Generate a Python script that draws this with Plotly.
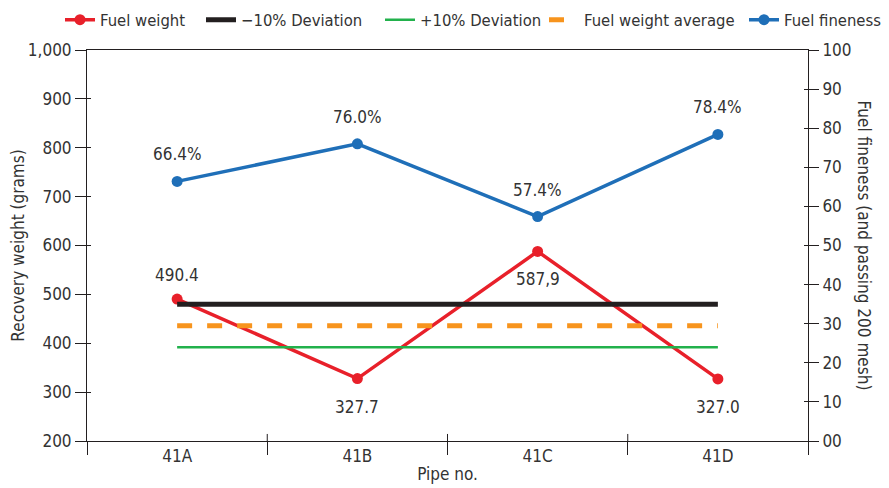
import plotly.graph_objects as go

pipes = ["41A", "41B", "41C", "41D"]
fuel_weight = [490.4, 327.7, 587.9, 327.0]
fuel_weight_labels = ["490.4", "327.7", "587,9", "327.0"]
fuel_weight_label_shift = [24, -28, -28, -28]
fuel_fineness = [66.4, 76.0, 57.4, 78.4]
fineness_labels = ["66.4%", "76.0%", "57.4%", "78.4%"]
minus10 = [480, 480, 480, 480]
plus10 = [392, 392, 392, 392]
average = [436, 436, 436, 436]
left_ticks = [200, 300, 400, 500, 600, 700, 800, 900, 1000]
left_ticktext = ["200", "300", "400", "500", "600", "700", "800", "900", "1,000"]
right_ticks = [0, 10, 20, 30, 40, 50, 60, 70, 80, 90, 100]
right_ticktext = ["00", "10", "20", "30", "40", "50", "60", "70", "80", "90", "100"]

FONT = "DejaVu Sans Condensed, Liberation Sans Narrow, Roboto, Arial"
TXT = "#333333"
AX = "#231F20"
FS = 17
W = 881
H = 480

fig = go.Figure()
fig.add_trace(go.Scatter(x=pipes, y=fuel_weight, name="Fuel weight", mode="lines+markers",
                         legend="legend",
                         line=dict(color="#E8202A", width=3.5), marker=dict(size=11, color="#E8202A")))
fig.add_trace(go.Scatter(x=pipes, y=minus10, name="\u221210% Deviation", mode="lines",
                         legend="legend2",
                         line=dict(color="#231F20", width=5)))
fig.add_trace(go.Scatter(x=pipes, y=plus10, name="+10% Deviation", mode="lines",
                         legend="legend3",
                         line=dict(color="#22B14C", width=2.5)))
fig.add_trace(go.Scatter(x=pipes, y=average, name="Fuel weight average", mode="lines",
                         legend="legend4",
                         line=dict(color="#F7941D", width=5, dash="dash")))
fig.add_trace(go.Scatter(x=pipes, y=fuel_fineness, name="Fuel fineness", mode="lines+markers",
                         yaxis="y2", legend="legend5",
                         line=dict(color="#1F6FB8", width=3.5), marker=dict(size=11, color="#1F6FB8")))

for p, v, t, s in zip(pipes, fuel_weight, fuel_weight_labels, fuel_weight_label_shift):
    fig.add_annotation(x=p, y=v, xref="x", yref="y", text=t, showarrow=False, yshift=s,
                       font=dict(size=FS, color=TXT))
for p, v, t in zip(pipes, fuel_fineness, fineness_labels):
    fig.add_annotation(x=p, y=v, xref="x", yref="y2", text=t, showarrow=False, yshift=27,
                       font=dict(size=FS, color=TXT))


def leg(px):
    return dict(orientation="h", xref="container", yref="container", x=px / W, xanchor="left",
                y=1 - 12 / H, yanchor="middle", font=dict(size=16.5, color=TXT), itemwidth=30,
                bgcolor="rgba(0,0,0,0)")


fig.update_layout(
    width=W, height=H,
    margin=dict(l=79, r=81, t=42, b=47, autoexpand=False),
    paper_bgcolor="white", plot_bgcolor="white",
    font=dict(family=FONT, size=FS, color=TXT),
    showlegend=True,
    legend=leg(52), legend2=leg(193), legend3=leg(372), legend4=leg(536), legend5=leg(736),
    xaxis=dict(type="category", range=[-0.5, 3.5], showline=True, linecolor=AX, linewidth=1,
               mirror=True, ticks="outside", tickson="boundaries", ticklen=13, tickcolor=AX,
               showgrid=False, zeroline=False,
               title=dict(text="Pipe no.", standoff=2, font=dict(size=FS, color=TXT)),
               tickfont=dict(size=FS, color=TXT)),
    yaxis=dict(range=[200, 1000], tickvals=left_ticks, ticktext=left_ticktext,
               showline=True, linecolor=AX, linewidth=1, ticks="outside", ticklen=11,
               tickcolor=AX, showgrid=False, zeroline=False,
               title=dict(text="Recovery weight (grams)", font=dict(size=FS, color=TXT), standoff=6),
               tickfont=dict(size=FS, color=TXT)),
    yaxis2=dict(range=[0, 100], tickvals=right_ticks, ticktext=right_ticktext, overlaying="y",
                side="right", showline=True, linecolor=AX, linewidth=1, ticks="outside",
                ticklen=10, tickcolor=AX, showgrid=False, zeroline=False,
                tickfont=dict(size=FS, color=TXT)),
    yaxis3=dict(range=[200, 1000], tickvals=left_ticks[1:-1], overlaying="y", side="left",
                anchor="x", ticks="inside", ticklen=4, tickcolor=AX, showticklabels=False,
                showgrid=False, zeroline=False, showline=False),
    yaxis4=dict(range=[0, 100], tickvals=right_ticks[1:-1], overlaying="y", side="right",
                anchor="x", ticks="inside", ticklen=4, tickcolor=AX, showticklabels=False,
                showgrid=False, zeroline=False, showline=False),
)
# invisible traces to activate the overlay tick axes
fig.add_trace(go.Scatter(x=[pipes[0]], y=[left_ticks[0]], yaxis="y3", mode="none",
                         showlegend=False, hoverinfo="skip"))
fig.add_trace(go.Scatter(x=[pipes[0]], y=[right_ticks[0]], yaxis="y4", mode="none",
                         showlegend=False, hoverinfo="skip"))

# inner part of the category separator ticks
for i in range(1, 4):
    fig.add_shape(type="line", xref="x", yref="paper", x0=i - 0.5, x1=i - 0.5, y0=0, y1=0.018,
                  line=dict(color=AX, width=1))

fig.add_annotation(text="Fuel fineness (and passing 200 mesh)", xref="paper", yref="paper",
                   x=1.0, y=0.5, xshift=68, textangle=90, showarrow=False,
                   font=dict(size=FS, color=TXT))

fig.write_html("out.html")
